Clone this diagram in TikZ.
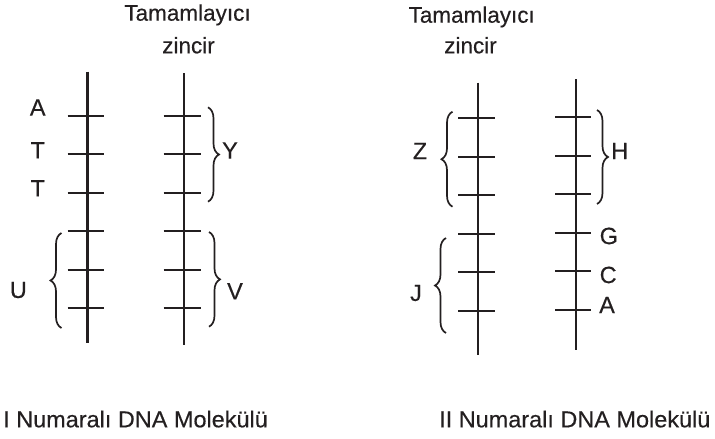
\documentclass[tikz,border=0pt]{standalone}
\usepackage{fontspec}
\setmainfont{Liberation Sans}[FakeBold=0.35]
\usetikzlibrary{decorations.pathreplacing}
\definecolor{ink}{RGB}{35,31,32}
\begin{document}
\begin{tikzpicture}[x=1pt,y=-1pt,
  strand/.style={line width=2.3pt, draw=ink},
  tickline/.style={line width=2.1pt, draw=ink},
  brc/.style={decorate, decoration={brace, amplitude=11pt}, line width=1.7pt, draw=ink},
  lbl/.style={font=\fontsize{23.5}{28}\selectfont, text=ink, inner sep=0pt},
  ttl/.style={font=\fontsize{22.5}{27}\selectfont, text=ink, inner sep=0pt, anchor=base},
  captxt/.style={font=\fontsize{23}{27}\selectfont, text=ink, inner sep=0pt, anchor=base west, xscale=1.02}]
\useasboundingbox (0,0) rectangle (715,439);

% titles
\node[ttl] (t1a) at (187.5,20.7) {Tamamlayıcı};
\node[ttl] (t1b) at (188.5,53.3) {zincir};
\node[ttl] (t2a) at (471.7,22.7) {Tamamlayıcı};
\node[ttl] (t2b) at (470.5,53.3) {zincir};

% strands
\coordinate (L1t) at (87.5,71.7);  \coordinate (L1b) at (87.5,343);
\coordinate (R1t) at (184.3,73.3); \coordinate (R1b) at (184.3,345);
\coordinate (L2t) at (478.3,82.7); \coordinate (L2b) at (478.3,355);
\coordinate (R2t) at (575.7,79.3); \coordinate (R2b) at (575.7,350);
\draw[strand] (L1t) -- (L1b);
\draw[strand] (R1t) -- (R1b);
\draw[strand] (L2t) -- (L2b);
\draw[strand] (R2t) -- (R2b);

% ticks
\foreach \i in {0,...,5} {
  \draw[tickline] ({67.5},{115.6+38.5*\i}) -- ({103.5},{115.6+38.5*\i});
  \draw[tickline] ({163.5},{115.6+38.5*\i}) -- ({200.5},{115.6+38.5*\i});
  \draw[tickline] ({458.3},{118.3+38.5*\i}) -- ({495},{118.3+38.5*\i});
  \draw[tickline] ({555},{117.3+38.5*\i}) -- ({591},{117.3+38.5*\i});
}

% braces
\draw[brc] (61.5,328) -- (61.5,233);
\draw[brc] (208,107.3) -- (208,201.7);
\draw[brc] (209,232) -- (209,326.7);
\draw[brc] (452.5,206.7) -- (452.5,111.7);
\draw[brc] (446,333) -- (446,238);
\draw[brc] (597,110) -- (597,204);

% labels molecule I
\node[lbl] (a1) at (37.7,107.5) {A};
\node[lbl] (t1) at (37.7,150.3) {T};
\node[lbl] (t2) at (37.7,188.3) {T};
\node[lbl] (u) at (18.3,290) {U};
\node[lbl] (y) at (230,150.5) {Y};
\node[lbl] (v) at (235,291.3) {V};

% labels molecule II
\node[lbl] (z) at (420,151) {Z};
\node[lbl] (j) at (416,293) {J};
\node[lbl, anchor=west] (h) at (611,151) {H};
\node[lbl, anchor=west] (g) at (599.5,236) {G};
\node[lbl, anchor=west] (c) at (599.5,275) {C};
\node[lbl, anchor=west] (a2) at (599,305) {A};

% captions
\node[captxt] (c1) at (3,427.3) {I Numaralı DNA Molekülü};
\node[captxt] (c2) at (439,427.3) {II Numaralı DNA Molekülü};
\end{tikzpicture}
\end{document}
